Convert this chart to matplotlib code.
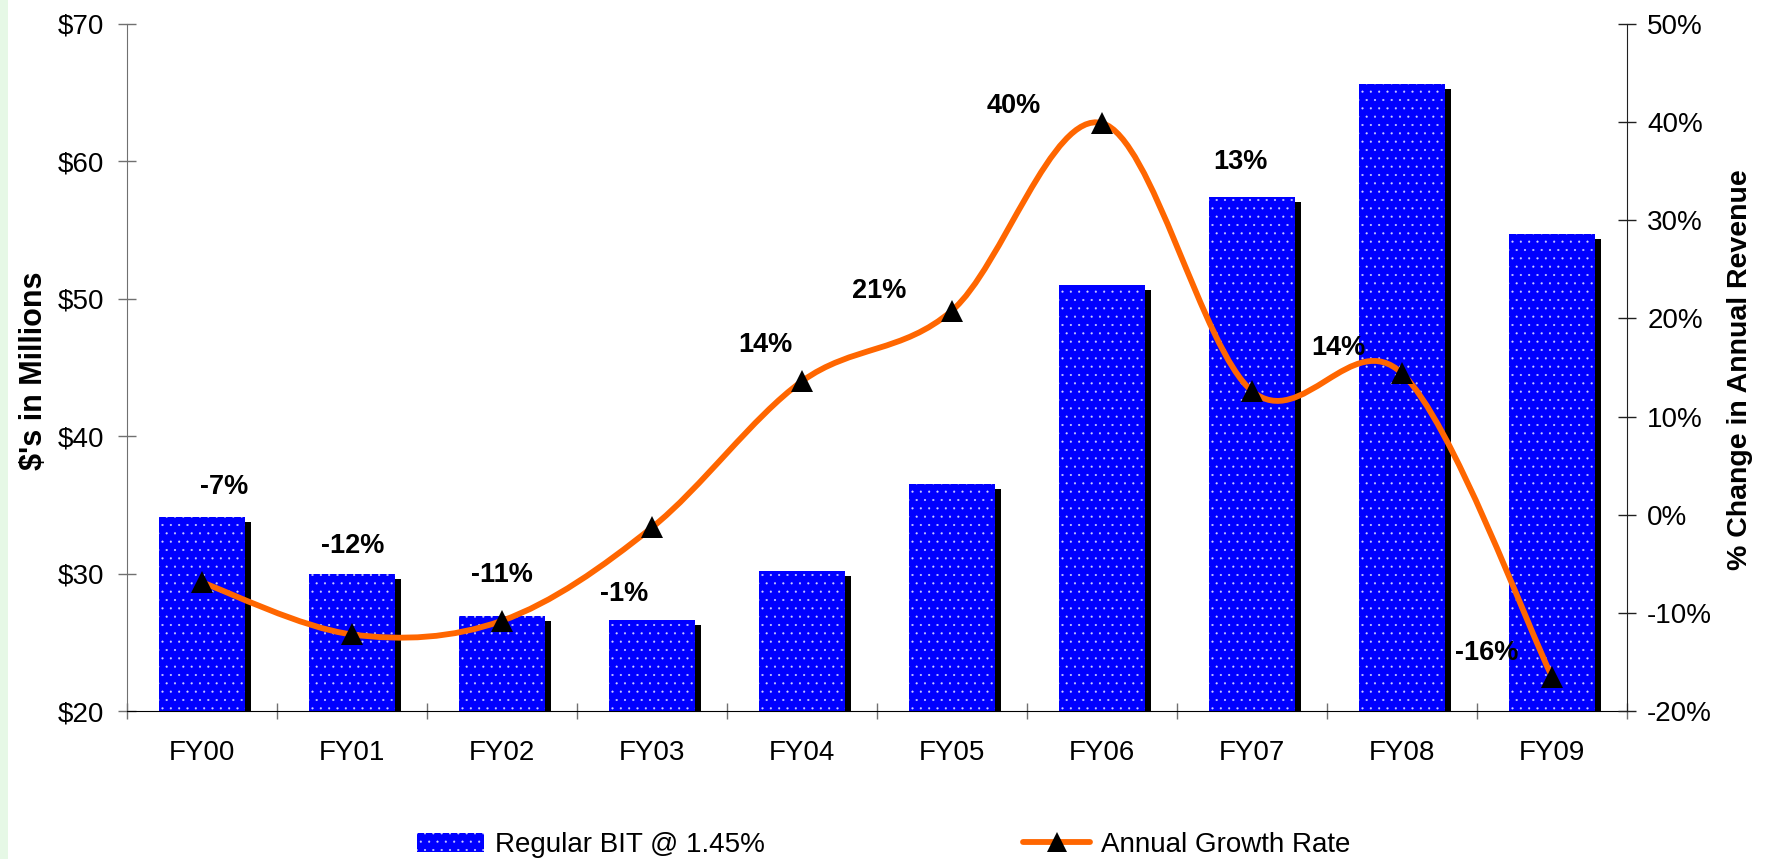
import numpy as np
import matplotlib
matplotlib.use('Agg')
import matplotlib.pyplot as plt
from matplotlib.path import Path
from matplotlib.patches import PathPatch, Patch, Rectangle
from matplotlib.lines import Line2D
from matplotlib.ticker import FuncFormatter
from matplotlib.transforms import ScaledTranslation

plt.rcParams['font.family'] = ['Liberation Sans', 'DejaVu Sans']
plt.rcParams['hatch.linewidth'] = 0.3
plt.rcParams['axes.unicode_minus'] = False

# data
years = ['FY00', 'FY01', 'FY02', 'FY03', 'FY04', 'FY05', 'FY06', 'FY07', 'FY08', 'FY09']
bit_millions = [34.1, 30.0, 26.9, 26.6, 30.2, 36.5, 51.0, 57.4, 65.6, 54.7]
growth_pct = [-6.9, -12.2, -10.8, -1.3, 13.6, 20.8, 39.9, 12.6, 14.4, -16.5]
growth_labels = ['-7%', '-12%', '-11%', '-1%', '14%', '21%', '40%', '13%', '14%', '-16%']
left_ticks = [20, 30, 40, 50, 60, 70]
right_ticks = [-20, -10, 0, 10, 20, 30, 40, 50]

# hand placed label offsets from the markers (pixels)
label_offsets = [(22, 95), (1, 88), (0, 46), (-28, -67), (-37, 36),
                 (-73, 20), (-88, 17), (-12, 229), (-64, 25), (-65, 24)]

BLUE = '#0000FF'
ORANGE = '#FF6600'
DOTS = '#D0D0FF'


def smooth_path(xs, ys):
    # excel style smoothed line (catmull-rom as cubic beziers)
    pts = np.column_stack([xs, ys]).astype(float)
    n = len(pts)
    verts = [pts[0]]
    codes = [Path.MOVETO]
    for i in range(n - 1):
        p0 = pts[max(i - 1, 0)]
        p1 = pts[i]
        p2 = pts[i + 1]
        p3 = pts[min(i + 2, n - 1)]
        verts += [p1 + (p2 - p0) / 6, p2 - (p3 - p1) / 6, p2]
        codes += [Path.CURVE4] * 3
    return Path(verts, codes)


fig = plt.figure(figsize=(17.71, 8.59), dpi=100)
ax = fig.add_axes([127 / 1771, 1 - 711 / 859, 1500 / 1771, 687 / 859])
ax2 = ax.twinx()

# light green strip on the left edge
fig.add_artist(Rectangle((0, 0), 8 / 1771, 1, transform=fig.transFigure,
                         facecolor='#E6F8E6', edgecolor='none', zorder=0))

x = np.arange(len(years)) + 0.5
width = 0.567

# bars with drop shadow
shadow = ax.bar(x, bit_millions, width, color='black', linewidth=0, zorder=1)
for r in shadow:
    r.set_transform(ax.transData + ScaledTranslation(6 / 100, -5 / 100, fig.dpi_scale_trans))
ax.bar(x, bit_millions, width, color=BLUE, edgecolor=DOTS, linewidth=0,
       hatch='..', zorder=2)

ax.set_xlim(0, len(years))
ax.set_ylim(20, 70)
ax.set_yticks(left_ticks)
ax.yaxis.set_major_formatter(FuncFormatter(lambda v, p: f'${v:.0f}'))
ax.set_xticks(np.arange(len(years) + 1))
ax.set_xticklabels([])
ax.set_xticks(x, minor=True)
ax.set_xticklabels(years, minor=True)

ax.tick_params(axis='y', direction='inout', length=13, width=1, color='#707070',
               labelsize=20, pad=10)
ax.tick_params(axis='x', which='major', direction='inout', length=12, width=1,
               color='#707070')
ax.tick_params(axis='x', which='minor', length=0, labelsize=20, pad=21)

for s in ['top', 'right']:
    ax.spines[s].set_visible(False)
ax.spines['left'].set_color('#707070')
ax.spines['bottom'].set_color('black')
ax.spines['bottom'].set_zorder(5)

# growth line
ax2.add_patch(PathPatch(smooth_path(x, growth_pct), fill=False, edgecolor=ORANGE,
                        linewidth=4.2, capstyle='round', joinstyle='round', zorder=3))
ax2.plot(x, growth_pct, linestyle='none', marker='^', markersize=16.5,
         markerfacecolor='black', markeredgewidth=0, zorder=4)

for xi, g, lbl, (dx, dy) in zip(x, growth_pct, growth_labels, label_offsets):
    ax2.annotate(lbl, (xi, g), xytext=(dx, dy), textcoords='offset pixels',
                 ha='center', va='center', fontsize=19.5, fontweight='bold', zorder=5)

ax2.set_ylim(-20, 50)
ax2.set_yticks(right_ticks)
ax2.yaxis.set_major_formatter(FuncFormatter(lambda v, p: f'{v:.0f}%'))
ax2.tick_params(axis='y', direction='inout', length=13, width=1, color='#202020',
                labelsize=20, pad=8)
for s in ['top', 'left', 'bottom']:
    ax2.spines[s].set_visible(False)
ax2.spines['right'].set_color('#202020')

fig.text(34 / 1771, 1 - 371 / 859, "$'s in Millions", rotation=90, ha='center',
         va='center', fontsize=22, fontweight='bold')
fig.text(1740 / 1771, 1 - 370 / 859, '% Change in Annual Revenue', rotation=90,
         ha='center', va='center', fontsize=20.5, fontweight='bold')

handles = [
    Patch(facecolor=BLUE, edgecolor=DOTS, linewidth=0, hatch='..',
          label='Regular BIT @ 1.45%'),
    Line2D([], [], color=ORANGE, linewidth=4.2, marker='^', markersize=14,
           markerfacecolor='black', markeredgewidth=0, solid_capstyle='round',
           label='Annual Growth Rate'),
]
fig.legend(handles=handles, loc='center', bbox_to_anchor=(884 / 1771, 1 - 845 / 859),
           ncol=2, frameon=False, fontsize=20, handlelength=2.4, handletextpad=0.4,
           columnspacing=9.3)

fig.savefig('out.png', dpi=100)
